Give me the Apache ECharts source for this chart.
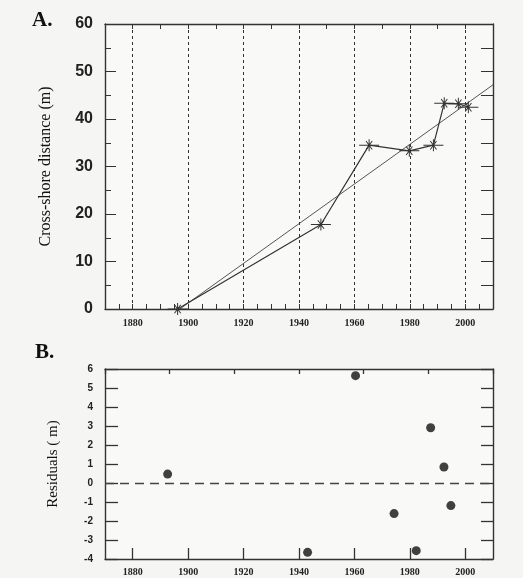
<!DOCTYPE html>
<html>
<head>
<meta charset="utf-8">
<script src="https://cdn.jsdelivr.net/npm/echarts@6/dist/echarts.min.js"></script>
<style>
  html, body { margin: 0; padding: 0; background: #f5f5f3; }
  #chart { width: 523px; height: 578px; }
</style>
</head>
<body>
<div id="chart"></div>
<script>
/* ===== data ===== */
const surveyYears = [1896.2, 1947.9, 1965.3, 1979.8, 1988.5, 1992.4, 1997.5, 2001.1];
const crossShore = [0, 17.8, 34.5, 33.3, 34.5, 43.3, 43.2, 42.5];
const fitYears = [1897, 2010];
const fitDistance = [0, 47.2];
const decadeLines = [1880, 1900, 1920, 1940, 1960, 1980, 2000];
const yearLabels = [1880, 1900, 1920, 1940, 1960, 1980, 2000];
const residualYears = [1892.6, 1943.1, 1960.4, 1974.3, 1982.3, 1987.5, 1992.3, 1994.8];
const residuals = [0.47, -3.65, 5.65, -1.61, -3.56, 2.91, 0.84, -1.19];

const ink = '#222';
const frame = { onZero: false, lineStyle: { color: '#333', width: 1.4 } };
const serifLabel = { color: ink, fontFamily: 'Liberation Serif', fontWeight: 'bold', fontSize: 10 };
const sansLabel = { color: ink, fontFamily: 'Liberation Sans', fontWeight: 'bold' };

const starSymbol = 'path://M0,5.5 L20,5.5 L20,6.5 L0,6.5 Z M9.5,0 L10.5,0 L10.5,12 L9.5,12 Z ' +
  'M6.5,2 L7.3,1.5 L13.5,10 L12.7,10.5 Z M12.7,1.5 L13.5,2 L7.3,10.5 L6.5,10 Z';

const chart = echarts.init(document.getElementById('chart'));
chart.setOption({
  backgroundColor: '#f5f5f3',
  animation: false,
  title: [
    { text: 'A.', left: 27, top: 5, textStyle: { fontFamily: 'Liberation Serif', fontWeight: 'bold', fontSize: 21, color: '#111' } },
    { text: 'B.', left: 30, top: 337, textStyle: { fontFamily: 'Liberation Serif', fontWeight: 'bold', fontSize: 21, color: '#111' } },
  ],
  grid: [
    { left: 105, top: 24, width: 388, height: 285, show: true, backgroundColor: '#f9f9f8', borderWidth: 0 },
    { left: 105, top: 369, width: 388, height: 190, show: true, backgroundColor: '#f9f9f8', borderWidth: 0 },
  ],
  xAxis: [
    {
      gridIndex: 0, type: 'value', position: 'bottom', min: 1870, max: 2010, interval: 10,
      axisLine: frame,
      axisTick: { inside: true, length: 5, lineStyle: { color: '#333' } },
      minorTick: { show: true, splitNumber: 2, length: 5, lineStyle: { color: '#333' } },
      axisLabel: {
        ...serifLabel, margin: 9,
        formatter: v => (v % 20 === 0 && v >= 1880 && v <= 2000) ? String(v) : '',
      },
      splitLine: { show: false },
    },
    {
      gridIndex: 0, type: 'value', position: 'top', min: 1870, max: 2010, interval: 10,
      axisLine: frame,
      axisTick: { inside: true, length: 5, lineStyle: { color: '#333' } },
      axisLabel: { show: false },
      splitLine: { show: false },
    },
    {
      gridIndex: 1, type: 'value', position: 'bottom', min: 1870, max: 2010,
      axisLine: frame,
      axisTick: { inside: true, length: 11, customValues: yearLabels, lineStyle: { color: '#333', width: 1.3 } },
      axisLabel: { ...serifLabel, margin: 8, customValues: yearLabels, formatter: v => String(v) },
      splitLine: { show: false },
    },
    {
      gridIndex: 1, type: 'value', position: 'top', min: 0, max: 6, interval: 1,
      axisLine: frame,
      axisTick: { inside: true, length: 5, lineStyle: { color: '#333', width: 1.3 } },
      axisLabel: { show: false },
      splitLine: { show: false },
    },
  ],
  yAxis: [
    {
      gridIndex: 0, type: 'value', position: 'left', min: 0, max: 60, interval: 10,
      name: 'Cross-shore distance (m)', nameLocation: 'middle', nameGap: 51,
      nameTextStyle: { fontFamily: 'Liberation Serif', fontSize: 16, color: '#111' },
      axisLine: frame,
      axisTick: { inside: true, length: 11, lineStyle: { color: '#333' } },
      minorTick: { show: true, splitNumber: 2, length: 6, lineStyle: { color: '#333' } },
      axisLabel: { ...sansLabel, fontSize: 16, margin: 12 },
      splitLine: { show: false },
    },
    {
      gridIndex: 0, type: 'value', position: 'right', min: 0, max: 60, interval: 5,
      axisLine: frame,
      axisTick: { inside: true, length: 12, lineStyle: { color: '#333' } },
      axisLabel: { show: false },
      splitLine: { show: false },
    },
    {
      gridIndex: 1, type: 'value', position: 'left', min: -4, max: 6, interval: 1,
      name: 'Residuals ( m)', nameLocation: 'middle', nameGap: 44,
      nameTextStyle: { fontFamily: 'Liberation Serif', fontSize: 15, color: '#111' },
      axisLine: frame,
      axisTick: { inside: true, length: 13, lineStyle: { color: '#333', width: 1.3 } },
      axisLabel: { ...sansLabel, fontSize: 10, margin: 12 },
      splitLine: { show: false },
    },
    {
      gridIndex: 1, type: 'value', position: 'right', min: -4, max: 6, interval: 1,
      axisLine: frame,
      axisTick: { inside: true, length: 12, lineStyle: { color: '#333', width: 1.3 } },
      axisLabel: { show: false },
      splitLine: { show: false },
    },
  ],
  series: [
    {
      name: 'fit',
      type: 'line',
      xAxisIndex: 0, yAxisIndex: 0,
      data: fitYears.map((y, i) => [y, fitDistance[i]]),
      symbol: 'none',
      lineStyle: { color: '#555', width: 1 },
      silent: true,
      markLine: {
        silent: true,
        symbol: 'none',
        label: { show: false },
        lineStyle: { color: '#333', width: 1, type: [3, 3] },
        data: decadeLines.map(v => ({ xAxis: v })),
      },
      z: 2,
    },
    {
      name: 'shoreline',
      type: 'line',
      xAxisIndex: 0, yAxisIndex: 0,
      data: surveyYears.map((y, i) => [y, crossShore[i]]),
      symbol: starSymbol,
      symbolSize: [20, 12],
      showAllSymbol: true,
      itemStyle: { color: '#333' },
      lineStyle: { color: '#333', width: 1.2 },
      z: 3,
    },
    {
      name: 'residuals',
      type: 'scatter',
      xAxisIndex: 2, yAxisIndex: 2,
      data: residualYears.map((y, i) => [y, residuals[i]]),
      symbol: 'circle',
      symbolSize: 9,
      itemStyle: { color: '#111' },
      markLine: {
        silent: true,
        symbol: 'none',
        label: { show: false },
        lineStyle: { color: '#444', width: 1.4, type: [9, 6] },
        data: [{ yAxis: 0 }],
      },
    },
  ],
});
</script>
</body>
</html>
